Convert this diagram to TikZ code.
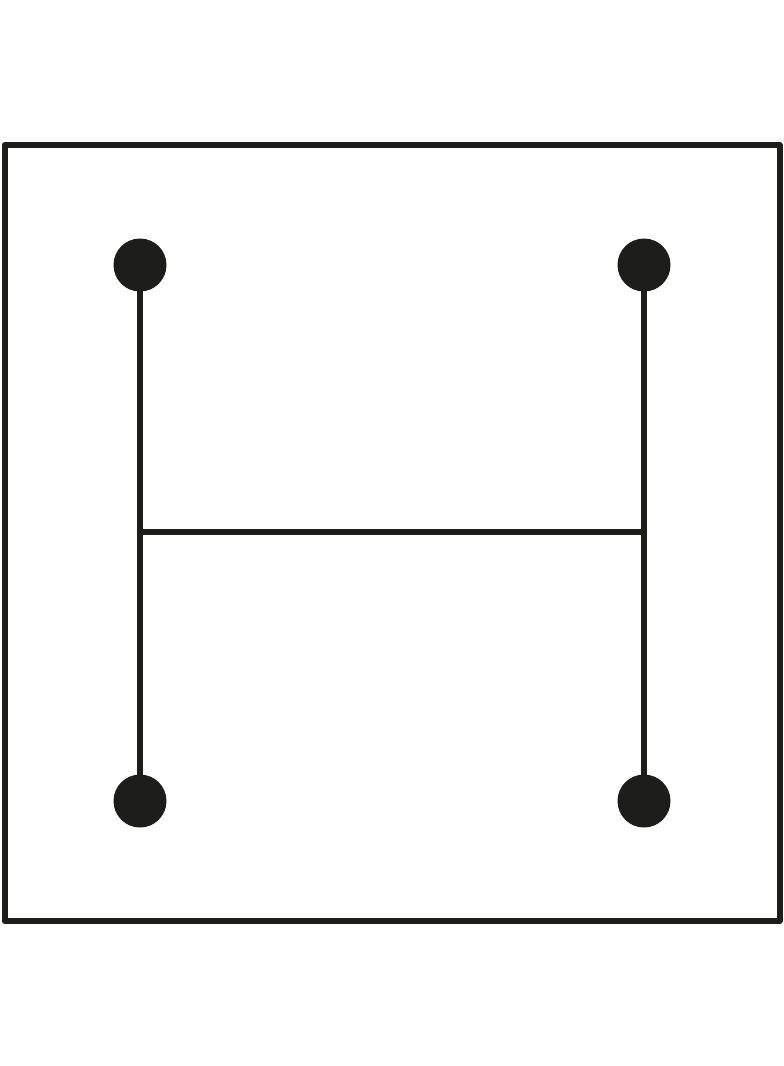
\documentclass[tikz,border=0pt]{standalone}
\begin{document}
\begin{tikzpicture}[x=1pt,y=-1pt,
  ink/.style={draw=dk,line width=6pt,line join=round},
  dot/.style={circle,fill=dk,minimum size=53pt,inner sep=0pt,outer sep=0pt}]
\definecolor{dk}{HTML}{1D1D1B}
\useasboundingbox (0,0) rectangle (784,1066);
\draw[ink] (4.5,145) rectangle (779.5,921);
\node[dot] (tl) at (140,265) {};
\node[dot] (tr) at (644,265) {};
\node[dot] (bl) at (140,801) {};
\node[dot] (br) at (644,801) {};
\coordinate (ml) at (140,532);
\coordinate (mr) at (644,532);
\draw[ink] (tl.center) -- (bl.center);
\draw[ink] (tr.center) -- (br.center);
\draw[draw=dk,line width=5.5pt] (ml) -- (mr);
\end{tikzpicture}
\end{document}
